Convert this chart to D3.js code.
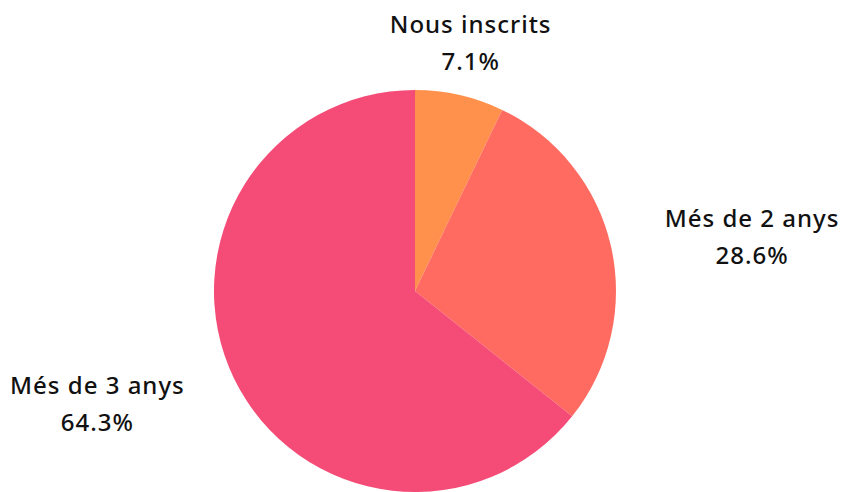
<!DOCTYPE html>
<html><head><meta charset="utf-8">
<script src="https://cdn.jsdelivr.net/npm/d3@7"></script>
<style>html,body{margin:0;padding:0;background:#fff;}svg{display:block;}</style>
</head><body>
<svg id="c" width="845" height="492"></svg>
<script>
const categories = ["Nous inscrits", "Més de 2 anys", "Més de 3 anys"];
const values = [1, 4, 9];
const percentLabels = ["7.1%", "28.6%", "64.3%"];
const colors = ["#FF914D", "#FF6B61", "#F54B77"];

const svg = d3.select("#c");
const cx = 415, cy = 291, R = 201;
const g = svg.append("g").attr("transform", `translate(${cx},${cy})`);
const pie = d3.pie().sort(null).value(d => d)(values);
const arc = d3.arc().innerRadius(0).outerRadius(R);
g.selectAll("path").data(pie).enter().append("path")
  .attr("d", arc).attr("fill", (d, i) => colors[i]);

const labelR = 250;
pie.forEach((d, i) => {
  const a = (d.startAngle + d.endAngle) / 2;
  let x = Math.sin(a) * labelR, y = -Math.cos(a) * labelR;
  const t = g.append("text").attr("text-anchor", "middle")
    .attr("font-family", "Noto Sans, sans-serif").attr("font-size", 24)
    .attr("font-weight", 500).attr("letter-spacing", 1)
    .attr("fill", "#111");
  const l1 = t.append("tspan").attr("dy", "0.35em").text(categories[i]);
  const l2 = t.append("tspan").attr("dy", "0.35em").text(percentLabels[i]);
  const w = Math.max(l1.node().getComputedTextLength(), l2.node().getComputedTextLength());
  if (Math.abs(Math.sin(a)) > 0.5) {
    if (Math.sin(a) > 0) { x += 6 + w / 2; y += 2; }
    else { x -= 5 + w / 2; y += 5; }
  } else { y -= 4; }
  l1.attr("x", x).attr("y", y - 18.5);
  l2.attr("x", x).attr("y", y + 18.5);
});
</script>
</body></html>
